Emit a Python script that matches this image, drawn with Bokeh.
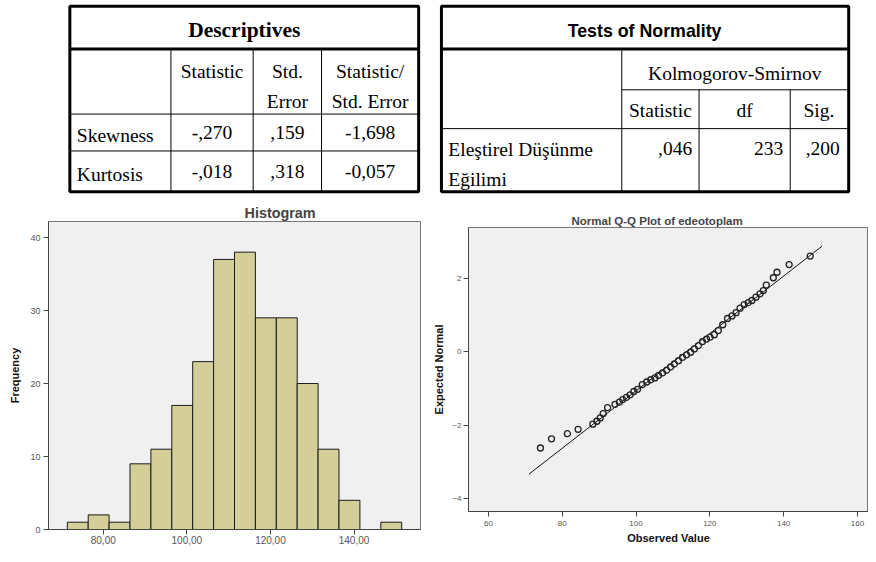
from bokeh.plotting import figure
from bokeh.models import Range1d, FixedTicker
from bokeh.layouts import column, row
from bokeh.embed import file_html
from bokeh.resources import INLINE
from bokeh.core.properties import value

# ---------------- data ----------------
desc_title = "Descriptives"
desc_header_1 = ["Statistic", "Std.", "Statistic/"]
desc_header_2 = ["", "Error", "Std. Error"]
desc_rows = ["Skewness", "Kurtosis"]
desc_statistic = ["-,270", "-,018"]
desc_std_error = [",159", ",318"]
desc_ratio = ["-1,698", "-0,057"]

norm_title = "Tests of Normality"
norm_group = "Kolmogorov-Smirnov"
norm_headers = ["Statistic", "df", "Sig."]
norm_variable = ["Eleştirel Düşünme", "Eğilimi"]
norm_values = [",046", "233", ",200"]

hist_bin_centers = [73.9, 78.9, 83.9, 88.9, 93.9, 98.9, 103.9, 108.9,
                    113.9, 118.9, 123.9, 128.9, 133.9, 138.9, 143.9, 148.9]
hist_counts = [1, 2, 1, 9, 11, 17, 23, 37, 38, 29, 29, 20, 11, 4, 0, 1]
hist_bin_width = 5
hist_xticks = [80, 100, 120, 140]
hist_xtick_labels = ["80,00", "100,00", "120,00", "140,00"]
hist_yticks = [0, 10, 20, 30, 40]

qq_observed = [74.1, 77.1, 81.4, 84.3, 88.3, 89.4, 90.3, 91.1, 92.3, 94.3,
               95.5, 96.4, 97.4, 98.4, 99.4, 100.4, 101.7, 102.9, 104.0, 105.1,
               106.1, 107.2, 108.3, 109.4, 110.4, 111.5, 112.6, 113.7, 114.8, 115.8,
               116.9, 118.0, 119.1, 120.1, 121.2, 122.3, 123.5, 124.8, 126.0, 127.1,
               128.2, 129.3, 130.4, 131.4, 132.5, 133.6, 134.5, 135.3, 137.2, 138.2,
               141.5, 147.2]
qq_expected = [-2.62, -2.37, -2.23, -2.11, -1.97, -1.89, -1.80, -1.68, -1.52, -1.43,
               -1.37, -1.30, -1.24, -1.17, -1.08, -1.02, -0.89, -0.82, -0.76, -0.71,
               -0.64, -0.57, -0.50, -0.41, -0.33, -0.24, -0.15, -0.08, -0.01, 0.08,
               0.17, 0.28, 0.35, 0.40, 0.47, 0.58, 0.74, 0.91, 0.98, 1.07,
               1.19, 1.29, 1.34, 1.40, 1.49, 1.58, 1.67, 1.82, 2.02, 2.17,
               2.38, 2.61]
qq_line_x = [71.0, 150.4]
qq_line_y = [-3.33, 2.88]
qq_xticks = [60, 80, 100, 120, 140, 160]
qq_yticks = [-4, -2, 0, 2]

# ---------------- styles ----------------
SERIF = value("Liberation Serif")
SANS = "Liberation Sans"
FRAME_BG = "#F0F0F0"
BAR_FILL = "#D4CF98"
GREY = "#555555"
BODY = "19.5px"

# ---------------- tables ----------------
t = figure(width=868, height=199, x_range=Range1d(0, 876), y_range=Range1d(205, 0),
           output_backend="svg", toolbar_location=None, min_border=0)
t.axis.visible = False
t.grid.visible = False
t.outline_line_color = None

# table 1 layout
T1L, T1R, TT, TB = 70, 422, 6, 197
t1_cols = [172, 255, 324]
t1_centers = [213.5, 289.5, 373]
t.quad(left=[T1L, 445], right=[T1R, 856], top=[TT, TT], bottom=[TB, TB],
       fill_color=None, line_color="black", line_width=3)
t.segment(x0=[T1L, 445], y0=[50, 50], x1=[T1R, 856], y1=[50, 50],
          line_color="black", line_width=3)
t.segment(x0=[T1L, T1L] + t1_cols, y0=[117, 155, 50, 50, 50],
          x1=[T1R, T1R] + t1_cols, y1=[117, 155, TB, TB, TB],
          line_color="black", line_width=1)
t.text(x=[246], y=[30], text=[desc_title], text_font=SERIF, text_font_size="21.5px",
       text_font_style="bold", text_align="center", text_baseline="middle")
t.text(x=t1_centers, y=[73] * 3, text=desc_header_1, text_font=SERIF, text_font_size=BODY,
       text_align="center", text_baseline="middle")
t.text(x=t1_centers, y=[104] * 3, text=desc_header_2, text_font=SERIF, text_font_size=BODY,
       text_align="center", text_baseline="middle")
t.text(x=[77, 77], y=[139, 179], text=desc_rows, text_font=SERIF, text_font_size=BODY,
       text_align="left", text_baseline="middle")
for cx, vals in zip(t1_centers, [desc_statistic, desc_std_error, desc_ratio]):
    t.text(x=[cx, cx], y=[136, 176], text=vals, text_font=SERIF, text_font_size=BODY,
           text_align="center", text_baseline="middle")

# table 2 layout
t.segment(x0=[627, 445, 627, 705, 797], y0=[92, 132, 50, 92, 92],
          x1=[856, 856, 627, 705, 797], y1=[92, 132, TB, TB, TB],
          line_color="black", line_width=1)
t.text(x=[650], y=[31], text=[norm_title], text_font=value(SANS), text_font_size="17.8px",
       text_font_style="bold", text_align="center", text_baseline="middle")
t.text(x=[741], y=[75], text=[norm_group], text_font=SERIF, text_font_size=BODY,
       text_align="center", text_baseline="middle")
t.text(x=[666, 751, 826], y=[113] * 3, text=norm_headers, text_font=SERIF,
       text_font_size=BODY, text_align="center", text_baseline="middle")
t.text(x=[452, 452], y=[153, 184], text=norm_variable, text_font=SERIF,
       text_font_size=BODY, text_align="left", text_baseline="middle")
t.text(x=[698, 790, 847], y=[152] * 3, text=norm_values, text_font=SERIF,
       text_font_size=BODY, text_align="right", text_baseline="middle")


def style_axes(p, label_size):
    for ax in (p.xaxis, p.yaxis):
        ax.axis_line_color = "#444444"
        ax.major_tick_line_color = "#444444"
        ax.minor_tick_line_color = None
        ax.major_tick_in = 0
        ax.major_tick_out = 5
        ax.major_label_text_color = GREY
        ax.major_label_text_font = SANS
        ax.major_label_text_font_size = label_size
        ax.major_label_standoff = 3
        ax.axis_label_text_font = SANS
        ax.axis_label_text_font_style = "bold"
        ax.axis_label_text_font_size = "11px"
        ax.axis_label_text_color = "#111111"
        ax.axis_label_standoff = 6
    p.grid.visible = False
    p.outline_line_color = "#777777"
    p.title.text_font = SANS
    p.title.text_font_style = "bold"
    p.title.align = "left"
    p.title.standoff = 2
    p.frame_align = False


# ---------------- histogram ----------------
h = figure(width=428, height=347, x_range=Range1d(66.9, 155.9), y_range=Range1d(0, 42.2),
           output_backend="svg", toolbar_location=None, title="Histogram",
           min_border_left=48, min_border_right=8, min_border_top=22, min_border_bottom=0,
           background_fill_color=FRAME_BG, border_fill_color="white")
bx = [c for c, n in zip(hist_bin_centers, hist_counts) if n > 0]
bn = [n for n in hist_counts if n > 0]
h.vbar(x=bx, top=bn, bottom=0, width=hist_bin_width, fill_color=BAR_FILL,
       line_color="#1a1a1a", line_width=1)
style_axes(h, "9px")
h.xaxis.ticker = FixedTicker(ticks=hist_xticks)
h.xaxis.major_label_overrides = {k: v for k, v in zip(hist_xticks, hist_xtick_labels)}
h.xaxis.major_label_text_font_size = "10px"
h.xaxis.major_label_standoff = 1
h.yaxis.ticker = FixedTicker(ticks=hist_yticks)
h.yaxis.axis_label = "Frequency"
h.title.text_font_size = "14.4px"
h.title.offset = 196

# ---------------- Q-Q plot ----------------
q = figure(width=440, height=347, x_range=Range1d(54.6, 163), y_range=Range1d(-4.35, 3.39),
           output_backend="svg", toolbar_location=None, title="Normal Q-Q Plot of edeotoplam",
           min_border_left=40, min_border_right=0, min_border_top=28, min_border_bottom=0,
           background_fill_color=FRAME_BG, border_fill_color="white")
q.line(x=qq_line_x, y=qq_line_y, line_color="#111111", line_width=1)
q.scatter(x=qq_observed, y=qq_expected, marker="circle", size=6, fill_color=None,
          line_color="#222222", line_width=1.3)
style_axes(q, "8px")
q.xaxis.ticker = FixedTicker(ticks=qq_xticks)
q.yaxis.ticker = FixedTicker(ticks=qq_yticks)
q.xaxis.axis_label = "Observed Value"
q.yaxis.axis_label = "Expected Normal"
q.xaxis.major_label_standoff = 4
q.xaxis.axis_label_standoff = 3
q.yaxis.axis_label_standoff = 4
q.yaxis.major_label_standoff = 2
q.title.text_font_size = "11.5px"
q.title.offset = 103

layout = column(t, row(h, q))
open("out.html", "w").write(file_html(layout, INLINE))
